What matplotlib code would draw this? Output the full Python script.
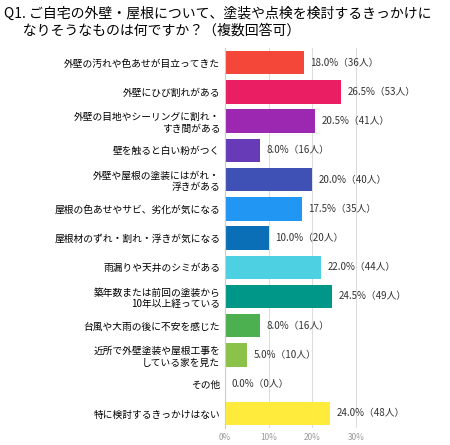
import matplotlib
matplotlib.use('Agg')
import matplotlib.pyplot as plt

plt.rcParams['font.family'] = ['Noto Sans CJK JP', 'DejaVu Sans']

labels = ['外壁の汚れや色あせが目立ってきた', '外壁にひび割れがある',
          '外壁の目地やシーリングに割れ・\nすき間がある', '壁を触ると白い粉がつく',
          '外壁や屋根の塗装にはがれ・\n浮きがある', '屋根の色あせやサビ、劣化が気になる',
          '屋根材のずれ・割れ・浮きが気になる', '雨漏りや天井のシミがある',
          '築年数または前回の塗装から\n10年以上経っている', '台風や大雨の後に不安を感じた',
          '近所で外壁塗装や屋根工事を\nしている家を見た', 'その他', '特に検討するきっかけはない']
pct = [18.0, 26.5, 20.5, 8.0, 20.0, 17.5, 10.0, 22.0, 24.5, 8.0, 5.0, 0.0, 24.0]
counts = [36, 53, 41, 16, 40, 35, 20, 44, 49, 16, 10, 0, 48]
colors = ['#f4473a', '#e91e63', '#9c27b0', '#673ab7', '#3f51b5', '#2196f3', '#0b6fb8',
          '#4dd0e1', '#009688', '#4caf50', '#8bc34a', '#cccccc', '#ffeb3b']

fig = plt.figure(figsize=(4.5, 4.45), dpi=100)
ax = fig.add_axes([0.5, 0.038, 0.34, 0.854])
y = range(len(labels))
ax.barh(y, pct, height=0.8, color=colors)
for i, (p, c) in enumerate(zip(pct, counts)):
    ax.text(p + 1.5, i, f'{p:.1f}%（{c}人）', va='center', fontsize=7, color='#333333')
ax.set_yticks(list(y))
ax.set_yticklabels(labels, fontsize=7, linespacing=1.2)
ax.set_ylim(len(labels) - 0.5, -0.5)
ax.set_xlim(0, 35)
ax.set_xticks([0, 10, 20, 30])
ax.set_xticklabels(['0%', '10%', '20%', '30%'], fontsize=6, color='#999999')
ax.xaxis.grid(True, color='#dddddd', linewidth=0.8)
ax.set_axisbelow(True)
ax.tick_params(length=0)
for s in ['top', 'right', 'bottom']:
    ax.spines[s].set_visible(False)
ax.spines['left'].set_color('#cccccc')

fig.text(0.01, 0.985, 'Q1. ご自宅の外壁・屋根について、塗装や点検を検討するきっかけに\n      なりそうなものは何ですか？（複数回答可）',
         fontsize=10, va='top', ha='left', linespacing=1.25)
fig.savefig('out.png', dpi=100)
